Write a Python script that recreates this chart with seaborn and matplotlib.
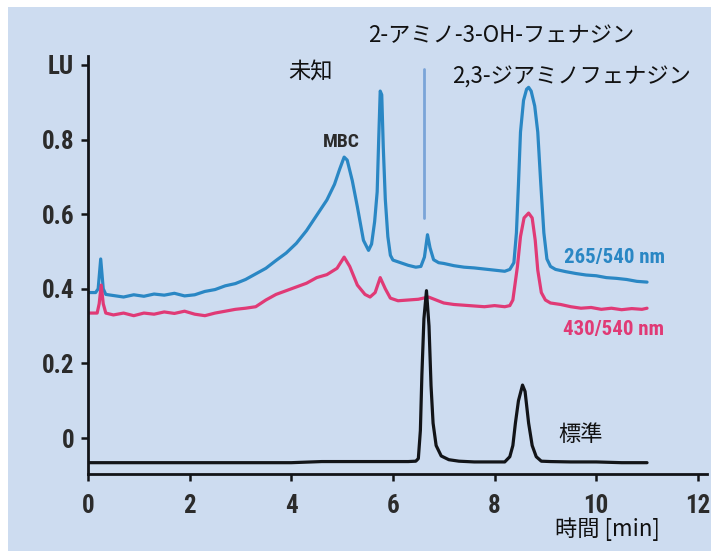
import os
import numpy as np
import pandas as pd
import matplotlib
matplotlib.use("Agg")
import matplotlib.pyplot as plt
from matplotlib import font_manager
from matplotlib.font_manager import FontProperties
from matplotlib.patches import Rectangle
import seaborn as sns

# ---- chromatogram data (retention time in min, signal in LU) ----
t_265 = [0.00, 0.15, 0.20, 0.25, 0.30, 0.35, 0.50, 0.70, 0.90, 1.10, 1.30, 1.50,
         1.70, 1.90, 2.10, 2.30, 2.50, 2.70, 2.90, 3.10, 3.30, 3.50, 3.70, 3.90,
         4.10, 4.30, 4.50, 4.70, 4.85, 4.95, 5.04, 5.10, 5.20, 5.30, 5.42, 5.52,
         5.58, 5.64, 5.69, 5.72, 5.75, 5.78, 5.81, 5.85, 5.90, 5.95, 6.00, 6.15,
         6.30, 6.45, 6.55, 6.62, 6.68, 6.73, 6.80, 6.90, 7.00, 7.20, 7.40, 7.60,
         7.80, 8.00, 8.20, 8.30, 8.38, 8.43, 8.47, 8.51, 8.57, 8.63, 8.67, 8.72,
         8.79, 8.85, 8.91, 8.97, 9.03, 9.10, 9.20, 9.40, 9.60, 9.80, 10.00, 10.20,
         10.40, 10.60, 10.80, 11.00]
v_265 = [0.390, 0.390, 0.400, 0.480, 0.400, 0.385, 0.382, 0.378, 0.384, 0.380, 0.386, 0.383,
         0.388, 0.381, 0.384, 0.393, 0.398, 0.408, 0.414, 0.425, 0.440, 0.455, 0.476, 0.496,
         0.522, 0.556, 0.597, 0.638, 0.680, 0.720, 0.753, 0.745, 0.690, 0.620, 0.530, 0.503,
         0.520, 0.580, 0.660, 0.800, 0.930, 0.920, 0.780, 0.640, 0.540, 0.490, 0.477, 0.470,
         0.463, 0.458, 0.460, 0.485, 0.545, 0.510, 0.478, 0.470, 0.468, 0.462, 0.458, 0.456,
         0.453, 0.450, 0.447, 0.452, 0.470, 0.550, 0.680, 0.820, 0.905, 0.935, 0.940, 0.930,
         0.890, 0.820, 0.680, 0.550, 0.480, 0.460, 0.452, 0.446, 0.441, 0.437, 0.435, 0.430,
         0.428, 0.425, 0.420, 0.418]

t_430 = [0.00, 0.18, 0.22, 0.26, 0.30, 0.35, 0.50, 0.70, 0.90, 1.10, 1.30, 1.50,
         1.70, 1.90, 2.10, 2.30, 2.50, 2.70, 2.90, 3.10, 3.30, 3.50, 3.70, 3.90,
         4.10, 4.30, 4.50, 4.70, 4.90, 5.04, 5.15, 5.30, 5.45, 5.55, 5.65, 5.75,
         5.85, 5.95, 6.10, 6.30, 6.50, 6.70, 6.85, 7.00, 7.20, 7.40, 7.60, 7.80,
         8.00, 8.20, 8.30, 8.36, 8.40, 8.45, 8.51, 8.58, 8.67, 8.74, 8.80, 8.85,
         8.92, 9.00, 9.10, 9.30, 9.50, 9.70, 9.90, 10.10, 10.30, 10.50, 10.70, 10.90,
         11.00]
v_430 = [0.335, 0.335, 0.360, 0.410, 0.360, 0.335, 0.330, 0.335, 0.328, 0.335, 0.332, 0.338,
         0.334, 0.340, 0.332, 0.328, 0.335, 0.340, 0.345, 0.348, 0.352, 0.370, 0.385, 0.395,
         0.405, 0.415, 0.430, 0.438, 0.455, 0.485, 0.460, 0.410, 0.385, 0.378, 0.390, 0.430,
         0.400, 0.375, 0.368, 0.370, 0.372, 0.378, 0.370, 0.362, 0.358, 0.356, 0.354, 0.352,
         0.355, 0.352, 0.355, 0.370, 0.410, 0.460, 0.540, 0.590, 0.603, 0.590, 0.530, 0.450,
         0.390, 0.370, 0.362, 0.358, 0.352, 0.348, 0.350, 0.345, 0.348, 0.344, 0.347, 0.345,
         0.348]

t_std = [0.00, 1.00, 2.00, 3.00, 4.00, 4.60, 5.50, 6.30, 6.45, 6.50, 6.54, 6.57,
         6.61, 6.66, 6.71, 6.75, 6.79, 6.85, 6.95, 7.10, 7.30, 7.60, 8.00, 8.20,
         8.30, 8.36, 8.41, 8.47, 8.55, 8.60, 8.67, 8.74, 8.82, 8.92, 9.10, 9.50,
         10.00, 10.50, 11.00]
v_std = [-0.066, -0.066, -0.066, -0.066, -0.066, -0.063, -0.063, -0.063, -0.062, -0.055, 0.020, 0.170,
         0.320, 0.395, 0.300, 0.140, 0.040, -0.020, -0.048, -0.058, -0.062, -0.064, -0.064, -0.064,
         -0.050, -0.020, 0.040, 0.100, 0.142, 0.125, 0.040, -0.020, -0.050, -0.062, -0.063, -0.064,
         -0.064, -0.066, -0.066]

x_ticks = [0, 2, 4, 6, 8, 10, 12]
y_ticks = [0, 0.2, 0.4, 0.6, 0.8, 1.0]
y_tick_labels = ["0", "0.2", "0.4", "0.6", "0.8", "LU"]

# marker for the 2-amino-3-OH-phenazine retention time
marker_t = 6.61
marker_v = [0.59, 0.99]

BG = "#cddcf0"
BLUE = "#2a87c4"
PINK = "#e03a76"
BLACK = "#121418"

sns.set_theme(style="white")
JP = ["Noto Sans CJK JP", "DejaVu Sans"]
plt.rcParams["font.family"] = ["DejaVu Sans"]


def condensed_font():
    """Pick a narrow bold sans face for the numeric labels."""
    files = [f.fname for f in font_manager.fontManager.ttflist]
    prefs = ["LiberationSansNarrow-Bold", "RobotoCondensed-Bold", "DejaVuSansCondensed-Bold",
             "OpenSans_Condensed-Bold", "OpenSansCondensed-Bold", "LiberationSansNarrow",
             "RobotoCondensed", "DejaVuSansCondensed", "Condensed", "Narrow"]
    for p in prefs:
        for fn in files:
            if p.lower() in os.path.basename(fn).lower():
                return FontProperties(fname=fn)
    return FontProperties(family="DejaVu Sans", stretch="condensed", weight="bold")


NARROW = condensed_font()


def narrow(size):
    fp = NARROW.copy()
    fp.set_size(size)
    return fp


fig = plt.figure(figsize=(7.11, 5.51), dpi=100, facecolor="white")
fig.patches.append(Rectangle((8 / 711, 0), 1, 1 - 7 / 551, transform=fig.transFigure,
                             facecolor=BG, edgecolor="none", zorder=-10))
ax = fig.add_axes([88 / 711, 1 - 473.5 / 551, (707 - 88) / 711, (473.5 - 56) / 551])
ax.set_facecolor("none")

df265 = pd.DataFrame({"t": t_265, "v": v_265})
df430 = pd.DataFrame({"t": t_430, "v": v_430})
dfstd = pd.DataFrame({"t": t_std, "v": v_std})

sns.lineplot(data=df265, x="t", y="v", ax=ax, color=BLUE, lw=2.3, sort=False, estimator=None)
sns.lineplot(data=df430, x="t", y="v", ax=ax, color=PINK, lw=2.3, sort=False, estimator=None)
sns.lineplot(data=dfstd, x="t", y="v", ax=ax, color=BLACK, lw=2.3, sort=False, estimator=None)

ax.plot([marker_t, marker_t], marker_v, color="#7aa4d8", lw=2.0)

ax.set_xlim(0, 12.18)
ax.set_ylim(-0.095, 1.024)
ax.set_xticks(x_ticks)
ax.set_xticklabels([str(x) for x in x_ticks])
ax.set_yticks(y_ticks)
ax.set_yticklabels(y_tick_labels)
ax.set_xlabel("")
ax.set_ylabel("")

for side in ("top", "right"):
    ax.spines[side].set_visible(False)
for side in ("left", "bottom"):
    ax.spines[side].set_color(BLACK)
    ax.spines[side].set_linewidth(2.0)

ax.tick_params(axis="both", which="major", direction="out", length=5, width=1.8,
               color=BLACK, labelcolor="#2b2b2b")
ax.tick_params(axis="x", pad=10, bottom=True)
ax.tick_params(axis="y", pad=5, left=True)
for lab in ax.get_xticklabels() + ax.get_yticklabels():
    lab.set_fontproperties(narrow(18))

# peak and trace annotations
ax.text(4.37, 0.981, "未知", family=JP, fontsize=16, color="#111111", ha="center", va="center")
ax.text(4.99, 0.794, "MBC", fontproperties=narrow(14), color="#2b2b2b",
        ha="center", va="center")
ax.text(8.14, 1.08, "2-アミノ-3-OH-フェナジン", family=JP, fontsize=16, color="#111111",
        ha="center", va="center", clip_on=False)
ax.text(9.52, 0.968, "2,3-ジアミノフェナジン", family=JP, fontsize=16, color="#111111",
        ha="center", va="center", clip_on=False)
ax.text(9.36, 0.485, "265/540 nm", fontproperties=narrow(15), color=BLUE,
        ha="left", va="center")
ax.text(9.35, 0.290, "430/540 nm", fontproperties=narrow(15), color=PINK,
        ha="left", va="center")
ax.text(9.26, 0.010, "標準", family=JP, fontsize=16, color="#111111", ha="left", va="center")
ax.text(9.18, -0.244, "時間 [min]", family=JP, fontsize=16, color="#111111",
        ha="left", va="center", clip_on=False)

fig.savefig("out.png", dpi=100, facecolor=fig.get_facecolor())
